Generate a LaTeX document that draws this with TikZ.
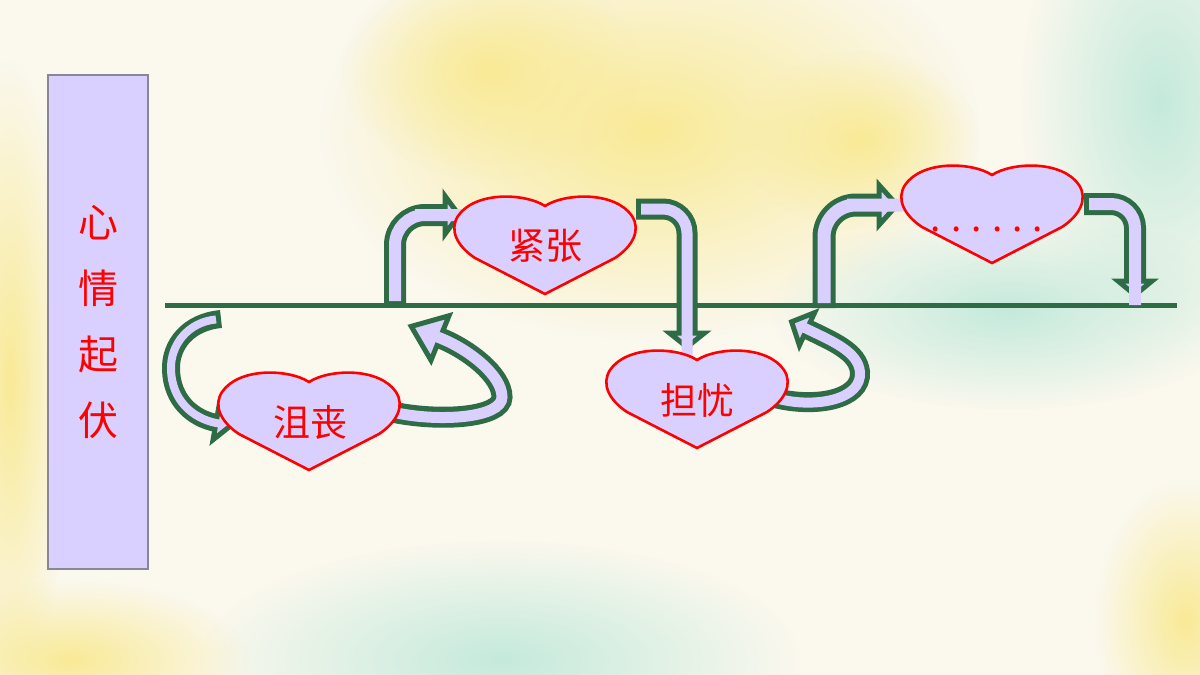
\documentclass[tikz,border=0pt]{standalone}
\usepackage{fontspec}
\newfontfamily\cjk{Noto Sans CJK SC}
\usetikzlibrary{calc,fadings}
\definecolor{bg}{RGB}{251,248,238}
\definecolor{arrgreen}{RGB}{46,108,70}
\definecolor{lav}{RGB}{217,208,255}
\definecolor{wyellow}{RGB}{249,234,150}
\definecolor{wteal}{RGB}{196,234,220}
\definecolor{boxline}{RGB}{135,135,150}
\tikzfading[name=softblob, inner color=transparent!0, outer color=transparent!100]
\tikzset{
  heartline/.style={draw=red, fill=lav, line width=2.6pt, line join=miter},
  hearttext/.style={font=\cjk\fontsize{37pt}{37pt}\selectfont, text=red, inner sep=0pt},
  titlebox/.style={draw=boxline, fill=lav, line width=1.5pt, minimum width=100pt, minimum height=494pt, inner sep=0pt,
     align=center, text=red, font=\cjk\fontsize{40pt}{66pt}\selectfont},
  axisline/.style={draw=arrgreen, line width=5pt},
  blob/.style={path fading=softblob}
}
\newcommand{\barrow}[6]{%
  \draw[arrgreen, line width=#1pt+10pt] #2;
  \filldraw[fill=lav, draw=arrgreen, line width=5pt, line join=miter]
    ($(#3)+(#4+90:#6)$) -- ($(#3)+(#4:#5)$) -- ($(#3)+(#4-90:#6)$) -- cycle;
  \draw[lav, line width=#1pt, shorten <=5pt] #2 -- ($(#3)+(#4:6)$);
}
\newcommand{\heartshape}[3]{%
  \coordinate (#1) at (#2,#3);
  \draw[heartline, shift={(#2,#3)}] (0,8) .. controls (20,-5) and (70,-7) .. (87,18)
    .. controls (96,32) and (88,48) .. (70,60) -- (0,96) -- (-70,60)
    .. controls (-88,48) and (-96,32) .. (-87,18)
    .. controls (-70,-7) and (-20,-5) .. (0,8) -- cycle;
}
\begin{document}
\begin{tikzpicture}[x=1pt,y=-1pt]
\useasboundingbox (0,0) rectangle (1200,675);
% background
\fill[bg] (0,0) rectangle (1200,675);
\fill[blob, wyellow] (650,130) ellipse (330 and 210);
\fill[blob, wyellow] (490,70) ellipse (150 and 110);
\fill[blob, wyellow] (860,140) ellipse (120 and 90);
\fill[blob, wteal] (1160,100) ellipse (140 and 250);
\fill[blob, wteal] (1010,310) ellipse (240 and 100);
\fill[blob, wyellow] (10,380) ellipse (60 and 320);
\fill[blob, wteal] (500,660) ellipse (300 and 120);
\fill[blob, wyellow] (1185,620) ellipse (90 and 140);
\fill[blob, wyellow] (70,660) ellipse (180 and 80);
% title box
\node[titlebox] (title) at (98,322) {心\\情\\起\\伏};
% axis
\coordinate (L0) at (165,305);
\coordinate (L1) at (1177,305);
\draw[axisline] (L0) -- (L1);
% arrows
% E: axis -> 沮丧
\barrow{8}{(221,319) .. controls (188,322) and (170,345) .. (171,370) .. controls (172,400) and (192,418) .. (216,423)}{216,423}{10}{15}{17}
% D: 沮丧 -> axis
\barrow{11}{(392,412) .. controls (440,422) and (502,418) .. (502,397) .. controls (502,375) and (468,349) .. (440,338)}{440,338}{202}{31}{24}
% A: axis -> 紧张
\barrow{12}{(395,306) [rounded corners=30pt] -- (395,215) -- (445,215)}{445,215}{0}{14}{19}
% B: 紧张 -> 担忧
\barrow{11}{(636,209) [rounded corners=24pt] -- (687,209) -- (687,333)}{687,333}{90}{14}{17.5}
% C: 担忧 -> axis
\barrow{10}{(775,398) .. controls (815,408) and (862,400) .. (860,372) .. controls (858,352) and (834,342) .. (807,329)}{807,329}{205}{17}{18}
% F: axis -> dots
\barrow{13}{(824,308) [rounded corners=32pt] -- (824,205) -- (879,205)}{879,205}{0}{18}{20}
% G: dots -> axis
\barrow{12}{(1084,204) [rounded corners=24pt] -- (1135,204) -- (1135,281)}{1135,281}{90}{14}{17}
% hearts
\heartshape{h1}{309}{374}
\heartshape{h2}{545}{198}
\heartshape{h3}{697}{352}
\heartshape{h4}{992}{167}
\node[hearttext] (t1) at (310,422) {沮丧};
\node[hearttext] (t2) at (545,246) {紧张};
\node[hearttext] (t3) at (697,400) {担忧};
\node[hearttext, anchor=base] (t4) at (987,231) {\makebox[20.4pt]{.}\makebox[20.4pt]{.}\makebox[20.4pt]{.}\makebox[20.4pt]{.}\makebox[20.4pt]{.}\makebox[20.4pt]{.}};
\end{tikzpicture}
\end{document}
